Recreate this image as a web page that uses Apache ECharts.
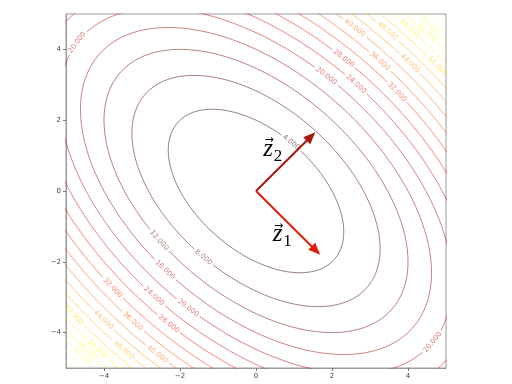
<!DOCTYPE html>
<html><head><meta charset="utf-8">
<script src="https://cdn.jsdelivr.net/npm/echarts@6/dist/echarts.min.js"></script>
<style>html,body{margin:0;padding:0;background:#fff}#c{width:512px;height:384px}</style>
</head><body><div id="c"></div>
<script>
// Quadratic form f(x,y) = [x y] M [x y]^T
const formMatrix = [[1, 0.5], [0.5, 1]];
const contourLevels = [4, 8, 12, 16, 20, 24, 28, 32, 36, 40, 44, 48, 52, 56, 60, 64, 68, 72];
const colorNormMax = 76;
const xTicks = [-4, -2, 0, 2, 4];
const yTicks = [-4, -2, 0, 2, 4];
// inline contour labels (level, approx position)
const labelLevels = [4, 20, 24, 28, 32, 36, 40, 44, 48, 52, 56, 60, 64,
                     8, 12, 16, 20, 24, 28, 32, 36, 40, 44, 48, 52, 56, 60, 64, 20, 20];
const labelX = [0.94, 1.86, 2.65, 2.26, 3.71, 3.27, 2.65, 4.06, 3.44, 4.80, 4.06, 4.53, 4.66,
                -1.40, -2.53, -2.40, -1.79, -2.71, -2.27, -3.77, -3.27, -2.61, -4.06, -3.40, -4.82, -4.16, -4.40, -4.58, -4.72, 4.66];
const labelY = [1.39, 3.27, 3.03, 3.69, 2.80, 3.69, 4.68, 3.61, 4.49, 3.55, 4.63, 4.48, 4.70,
                -1.89, -1.38, -2.23, -3.30, -2.99, -3.72, -2.73, -3.72, -4.62, -3.69, -4.39, -3.55, -4.48, -4.48, -4.70, 4.20, -4.28];
// direction arrows
const arrowNames = ['z', 'z'];
const arrowSubs = ['1', '2'];
const arrowBaseX = [0, 0];
const arrowBaseY = [0, 0];
const arrowTipX = [1.69, 1.56];
const arrowTipY = [-1.80, 1.66];
const arrowTextX = [0.567, 0.316];
const arrowTextY = [-1.324, 1.085];
const arrowColors = ['#e0200c', '#a8180a'];

const chart = echarts.init(document.getElementById('c'), null, {renderer: 'canvas', width: 512, height: 384});
const fmt = v => (v < 0 ? '\u2212' : '') + Math.abs(v);
function axis(ticks) {
  return {
    type: 'value', min: -5, max: 5,
    axisLine: {show: true, onZero: false, lineStyle: {color: '#9a9a9a', width: 1}},
    axisTick: {show: true, customValues: ticks, length: 3, lineStyle: {color: '#777'}},
    axisLabel: {customValues: ticks, formatter: fmt, fontSize: 7, color: '#444', fontFamily: 'DejaVu Sans', margin: 5},
    splitLine: {show: false}
  };
}
const baseOption = {
  animation: false,
  backgroundColor: '#fff',
  grid: {left: 66, right: 66, top: 14, bottom: 16, show: true, borderColor: '#9a9a9a', borderWidth: 1},
  xAxis: axis(xTicks),
  yAxis: axis(yTicks),
  series: []
};
chart.setOption(baseOption);

function hot(t) {
  t = Math.max(0, Math.min(1, t));
  const r = t < 0.365079 ? 0.0416 + (1 - 0.0416) * t / 0.365079 : 1;
  const g = t < 0.365079 ? 0 : (t < 0.746032 ? (t - 0.365079) / (0.746032 - 0.365079) : 1);
  const b = t < 0.746032 ? 0 : (t - 0.746032) / (1 - 0.746032);
  return 'rgb(' + Math.round(r * 255) + ',' + Math.round(g * 255) + ',' + Math.round(b * 255) + ')';
}

// eigen decomposition of the 2x2 symmetric matrix
const a = formMatrix[0][0], b = formMatrix[0][1], c = formMatrix[1][1];
const mid = (a + c) / 2, rad = Math.sqrt(((a - c) / 2) ** 2 + b * b);
const lamA = mid + rad, lamB = mid - rad;
const phi = 0.5 * Math.atan2(2 * b, a - c);
const v1 = [Math.cos(phi), Math.sin(phi)], v2 = [-Math.sin(phi), Math.cos(phi)];

const o = chart.convertToPixel({gridIndex: 0}, [0, 0]);
const p10 = chart.convertToPixel({gridIndex: 0}, [1, 0]);
const p01 = chart.convertToPixel({gridIndex: 0}, [0, 1]);
const toPx = (x, y) => [o[0] + x * (p10[0] - o[0]) + y * (p01[0] - o[0]), o[1] + x * (p10[1] - o[1]) + y * (p01[1] - o[1])];

const cv = document.createElement('canvas').getContext('2d');
cv.font = '7px "DejaVu Sans"';

const series = [];
const labelItems = [];
const N = 2400;
contourLevels.forEach(L => {
  const col = hot(L / colorNormMax);
  const ra = Math.sqrt(L / lamA), rb = Math.sqrt(L / lamB);
  const pts = [], px = [];
  for (let i = 0; i < N; i++) {
    const th = 2 * Math.PI * i / N;
    const x = ra * Math.cos(th) * v1[0] + rb * Math.sin(th) * v2[0];
    const y = ra * Math.cos(th) * v1[1] + rb * Math.sin(th) * v2[1];
    pts.push([x, y]);
    px.push(toPx(x, y));
  }
  const s = [0];
  for (let i = 1; i < N; i++) s.push(s[i - 1] + Math.hypot(px[i][0] - px[i - 1][0], px[i][1] - px[i - 1][1]));
  const S = s[N - 1] + Math.hypot(px[0][0] - px[N - 1][0], px[0][1] - px[N - 1][1]);
  const removed = new Array(N).fill(false);
  labelLevels.forEach((lv, k) => {
    if (lv !== L) return;
    const ap = toPx(labelX[k], labelY[k]);
    let best = 0, bd = Infinity;
    for (let i = 0; i < N; i++) {
      const d = (px[i][0] - ap[0]) ** 2 + (px[i][1] - ap[1]) ** 2;
      if (d < bd) { bd = d; best = i; }
    }
    const text = L.toFixed(3);
    const w = cv.measureText(text).width;
    const half = w / 2 + 2;
    for (let i = 0; i < N; i++) {
      let d = Math.abs(s[i] - s[best]);
      d = Math.min(d, S - d);
      if (d < half) removed[i] = true;
    }
    const pa = px[(best - 3 + N) % N], pb = px[(best + 3) % N];
    let ang = Math.atan2(pb[1] - pa[1], pb[0] - pa[0]);
    if (ang > Math.PI / 2) ang -= Math.PI;
    if (ang < -Math.PI / 2) ang += Math.PI;
    labelItems.push({x: pts[best][0], y: pts[best][1], rot: -ang, text: text, color: col});
  });
  let start = removed.indexOf(true);
  const lineStyle = {color: col, width: 1, opacity: 0.5};
  const mk = run => ({type: 'line', data: run, showSymbol: false, symbol: 'none', silent: true, clip: true, lineStyle: lineStyle, z: 2});
  if (start < 0) {
    const run = pts.slice(); run.push(pts[0]);
    series.push(mk(run));
  } else {
    let run = [];
    for (let k = 1; k <= N; k++) {
      const i = (start + k) % N;
      if (removed[i]) { if (run.length > 1) series.push(mk(run)); run = []; }
      else run.push(pts[i]);
    }
    if (run.length > 1) series.push(mk(run));
  }
});

series.push({
  type: 'custom', silent: true, clip: false, z: 4,
  data: labelItems.map(l => [l.x, l.y]),
  renderItem: (params, api) => {
    const l = labelItems[params.dataIndex];
    const p = api.coord([l.x, l.y]);
    return {type: 'text', x: p[0], y: p[1], rotation: l.rot,
      style: {text: l.text, fill: l.color, opacity: 0.55, font: '7px "DejaVu Sans"', align: 'center', verticalAlign: 'middle'}};
  }
});

series.push({
  type: 'custom', silent: true, clip: false, z: 5,
  data: arrowTipX.map((x, i) => [x, arrowTipY[i]]),
  renderItem: (params, api) => {
    const i = params.dataIndex;
    const s0 = api.coord([arrowBaseX[i], arrowBaseY[i]]);
    const t = api.coord([arrowTipX[i], arrowTipY[i]]);
    const dx = t[0] - s0[0], dy = t[1] - s0[1], len = Math.hypot(dx, dy), ux = dx / len, uy = dy / len;
    const hl = 12, hw = 5;
    const bx = t[0] - ux * hl, by = t[1] - uy * hl;
    const col = arrowColors[i];
    return {type: 'group', children: [
      {type: 'line', shape: {x1: s0[0], y1: s0[1], x2: bx + ux * 2, y2: by + uy * 2}, style: {stroke: col, lineWidth: 2}},
      {type: 'polygon', shape: {points: [[t[0], t[1]], [bx - uy * hw, by + ux * hw], [bx + uy * hw, by - ux * hw]]}, style: {fill: col}}
    ]};
  }
});

series.push({
  type: 'custom', silent: true, clip: false, z: 6,
  data: arrowTextX.map((x, i) => [x, arrowTextY[i]]),
  renderItem: (params, api) => {
    const i = params.dataIndex;
    const p = api.coord([arrowTextX[i], arrowTextY[i]]);
    return {type: 'group', children: [
      {type: 'text', x: p[0], y: p[1] - 3, style: {text: arrowNames[i], fill: '#000', font: 'italic 25px "Liberation Serif"', align: 'center', verticalAlign: 'middle'}},
      {type: 'text', x: p[0] + 1, y: p[1] - 12, style: {text: '\u2192', fill: '#000', font: '11px "DejaVu Sans"', align: 'center', verticalAlign: 'middle'}},
      {type: 'text', x: p[0] + 10, y: p[1] + 4, style: {text: arrowSubs[i], fill: '#000', font: '17px "Liberation Serif"', align: 'center', verticalAlign: 'middle'}}
    ]};
  }
});

chart.setOption({series: series});
</script>
</body></html>
